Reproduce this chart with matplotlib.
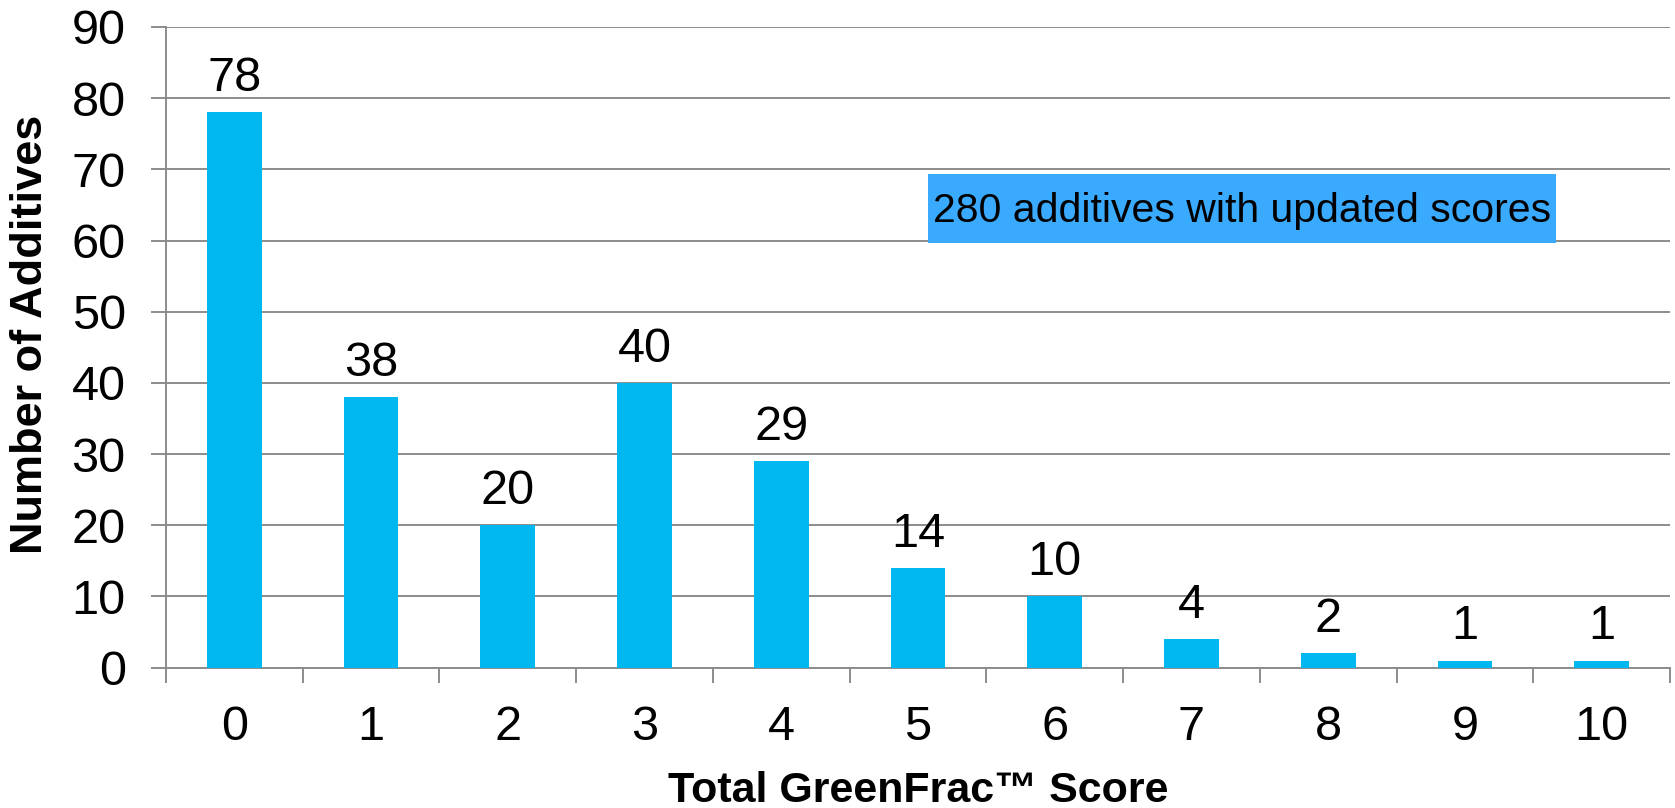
import matplotlib.pyplot as plt
from matplotlib.patches import Rectangle

# GreenFrac score distribution
scores = ["0", "1", "2", "3", "4", "5", "6", "7", "8", "9", "10"]
counts = [78, 38, 20, 40, 29, 14, 10, 4, 2, 1, 1]
y_ticks = [0, 10, 20, 30, 40, 50, 60, 70, 80, 90]
note = "280 additives with updated scores"

BAR_COLOR = "#00B7EF"
NOTE_COLOR = "#3AAAFF"
GRID_COLOR = "#8C8C8C"

plt.rcParams["font.family"] = ["Liberation Sans", "DejaVu Sans"]

fig = plt.figure(figsize=(16.75, 8.08), dpi=100)
ax = fig.add_axes([0.0991, 0.1737, 0.8979, 0.7929])

x = list(range(len(scores)))
bars = ax.bar(x, counts, width=0.4, color=BAR_COLOR, zorder=3)
ax.bar_label(bars, labels=[str(c) for c in counts], padding=8, fontsize=35)

ax.set_xlim(-0.5, len(scores) - 0.5)
ax.set_ylim(0, 90)
ax.set_yticks(y_ticks)
ax.yaxis.grid(True, color=GRID_COLOR, linewidth=1.4, zorder=0)
ax.set_axisbelow(True)

# boundary ticks between categories, labels at category centres
ax.set_xticks([i - 0.5 for i in range(len(scores) + 1)])
ax.set_xticklabels([])
ax.set_xticks(x, minor=True)
ax.set_xticklabels(scores, minor=True, fontsize=35)
ax.tick_params(axis="x", which="major", length=11, width=1.4, color=GRID_COLOR)
ax.tick_params(axis="x", which="minor", length=0, pad=27)
ax.tick_params(axis="y", length=11, width=1.4, color=GRID_COLOR, labelsize=35, pad=18)

for side in ("top", "right"):
    ax.spines[side].set_visible(False)
for side in ("left", "bottom"):
    ax.spines[side].set_color(GRID_COLOR)
    ax.spines[side].set_linewidth(1.4)

label_font = ["Liberation Sans Narrow", "Liberation Sans", "DejaVu Sans"]
ax.set_ylabel("Number of Additives", fontsize=32.5, fontweight="bold",
              family=label_font)
ax.yaxis.set_label_coords(-0.0765, 0.52)
ax.set_xlabel("Total GreenFrac\u2122 Score", fontsize=31, fontweight="bold",
              family=label_font, labelpad=15)

# highlighted note box
ax.add_patch(Rectangle((5.07, 59.6), 4.6, 9.8, facecolor=NOTE_COLOR,
                       edgecolor="none", zorder=4))
ax.text(7.37, 64.1, note, ha="center", va="center", fontsize=29.5,
        family=label_font, zorder=5)

fig.savefig("out.png", dpi=100)
